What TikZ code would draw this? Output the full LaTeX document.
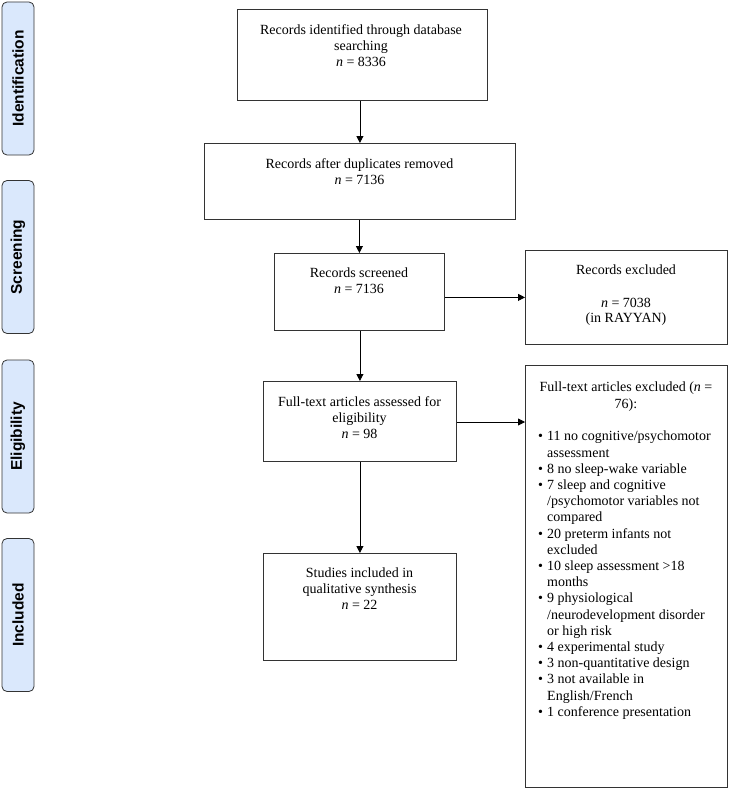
\documentclass[tikz,border=0pt]{standalone}
\usepackage{fontspec}
\setmainfont{Liberation Serif}
\newfontfamily\phasefont{Liberation Sans}
\usetikzlibrary{arrows.meta}
\definecolor{phasefill}{HTML}{DAE8FC}
\definecolor{edgecol}{HTML}{333333}
\newcommand{\bul}{\makebox[9pt][l]{\textbullet}}
\newcommand{\ind}{\hspace*{9pt}}
\begin{document}
\begin{tikzpicture}[x=1pt,y=-1pt,
  box/.style={draw=edgecol, line width=0.8pt, inner sep=0pt, anchor=north west},
  txt/.style={inner sep=0pt, anchor=north, align=center, font=\fontsize{14}{16}\selectfont},
  phase/.style={draw=edgecol, line width=0.8pt, fill=phasefill, rounded corners=5pt,
    rotate=90, minimum width=153pt, minimum height=32pt, inner sep=0pt,
    font=\phasefont\bfseries\fontsize{15.5}{17}\selectfont},
  arr/.style={draw=black, line width=0.8pt, -{Triangle[length=7pt,width=7pt]}}
]
\useasboundingbox (0,0) rectangle (729,789);

% phase labels
\node[phase] (p1) at (18,78.5) {Identification};
\node[phase] (p2) at (18,257) {Screening};
\node[phase] (p3) at (18,436.5) {Eligibility};
\node[phase] (p4) at (18,615) {Included};

% boxes
\node[box, minimum width=250pt, minimum height=91pt] (b1) at (237,9) {};
\node[box, minimum width=311pt, minimum height=76pt] (b2) at (204,143) {};
\node[box, minimum width=170pt, minimum height=77pt] (b3) at (274,253) {};
\node[box, minimum width=193pt, minimum height=80pt] (b4) at (263,381) {};
\node[box, minimum width=193pt, minimum height=107pt] (b5) at (263,553) {};
\node[box, minimum width=202pt, minimum height=94pt] (e1) at (525,250) {};
\node[box, minimum width=202pt, minimum height=422pt] (e2) at (525,365) {};

% texts
\node[txt] (t1) at (361,24) {Records identified through database\\searching\\\textit{n} = 8336};
\node[txt] (t2) at (359.5,158) {Records after duplicates removed\\\textit{n} = 7136};
\node[txt] (t3) at (359,268) {Records screened\\\textit{n} = 7136};
\node[txt] (t4) at (359.5,396) {Full-text articles assessed for\\eligibility\\\textit{n} = 98};
\node[txt] (t5) at (359.5,568) {Studies included in\\qualitative synthesis\\\textit{n} = 22};
\node[txt, font=\fontsize{14}{15.5}\selectfont] (t6) at (626,265) {Records excluded\\[17pt]\textit{n} = 7038\\(in RAYYAN)};
\node[txt, font=\fontsize{14}{17}\selectfont] (t7) at (626,382) {Full-text articles excluded (\textit{n} =\\76):};
\node[txt, anchor=north west, align=left, font=\fontsize{14}{16.2}\selectfont] (t8) at (538,431) {%
\bul 11 no cognitive/psychomotor\\
\ind assessment\\
\bul 8 no sleep-wake variable\\
\bul 7 sleep and cognitive\\
\ind /psychomotor variables not\\
\ind compared\\
\bul 20 preterm infants not\\
\ind excluded\\
\bul 10 sleep assessment >18\\
\ind months\\
\bul 9 physiological\\
\ind /neurodevelopment disorder\\
\ind or high risk\\
\bul 4 experimental study\\
\bul 3 non-quantitative design\\
\bul 3 not available in\\
\ind English/French\\
\bul 1 conference presentation};

% connectors
\draw[arr] (b1.south -| b2.north) -- (b2.north);
\draw[arr] (b2.south -| b3.north) -- (b3.north);
\draw[arr] (b3.south -| b4.north) -- (b4.north);
\draw[arr] (b4.south -| b5.north) -- (b5.north);
\draw[arr] (b3.east |- e1.west) -- (e1.west);
\coordinate (c1) at (525,422);
\draw[arr] (b4.east |- c1) -- (c1);
\end{tikzpicture}
\end{document}
